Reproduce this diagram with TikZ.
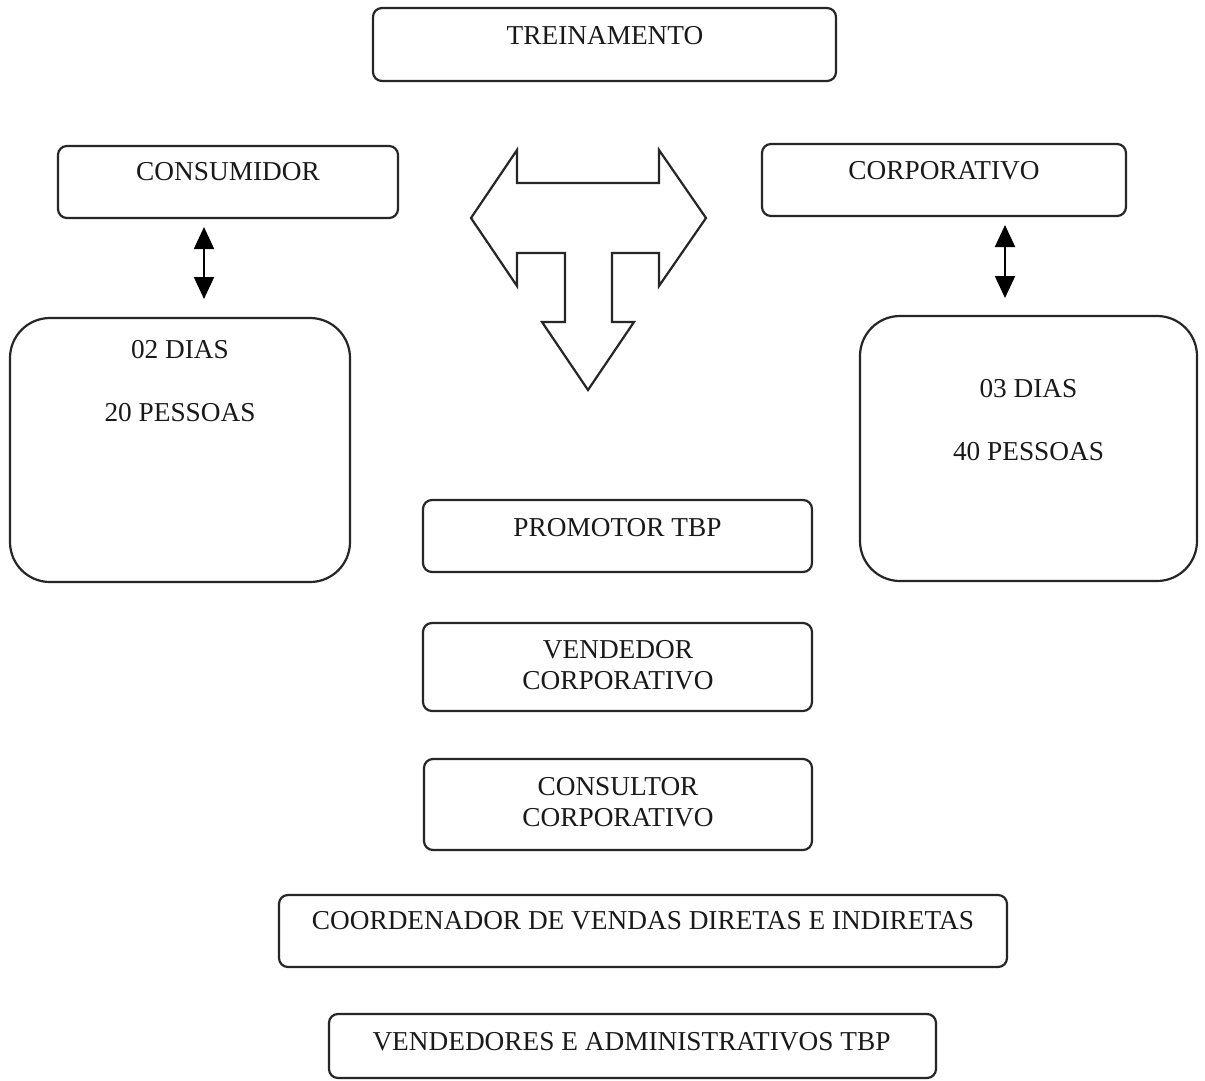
\documentclass[tikz,border=0pt]{standalone}
\usepackage{fontspec}
\setmainfont{Liberation Serif}
\usetikzlibrary{arrows.meta}
\begin{document}
\begin{tikzpicture}[x=1pt,y=-1pt,
  box/.style={draw=black!85,line width=2.2pt,rounded corners=9pt,inner sep=0pt},
  bigbox/.style={draw=black!85,line width=2.2pt,rounded corners=40pt,inner sep=0pt},
  txt/.style={inner sep=0pt,align=center,font=\fontsize{27.3}{31}\selectfont,text=black!90},
  dbl/.style={line width=2pt,{Triangle[width=20pt,length=22pt]}-{Triangle[width=20pt,length=22pt]}},
  tshape/.style={draw=black!85,line width=2.2pt,line join=miter}]
\useasboundingbox (0,0) rectangle (1205,1081);
\fill[white] (0,0) rectangle (1205,1081);

% boxes
\node[box,minimum width=463pt,minimum height=73pt] (trein) at (604.5,44.5) {};
\node[txt] (treint) at (605,36) {TREINAMENTO};

\node[box,minimum width=340pt,minimum height=72pt] (cons) at (228,182) {};
\node[txt] (const) at (228,172) {CONSUMIDOR};

\node[box,minimum width=364pt,minimum height=72pt] (corp) at (944,180) {};
\node[txt] (corpt) at (944,171) {CORPORATIVO};

\node[bigbox,minimum width=340pt,minimum height=264pt] (left) at (180,450) {};
\node[txt] (leftt) at (180,381.5) {02 DIAS\\[32pt]20 PESSOAS};

\node[bigbox,minimum width=337pt,minimum height=265pt] (right) at (1028.5,448.5) {};
\node[txt] (rightt) at (1028.5,420.5) {03 DIAS\\[32pt]40 PESSOAS};

\node[box,minimum width=389pt,minimum height=72pt] (prom) at (617.5,536) {};
\node[txt] (promt) at (617.5,528) {PROMOTOR TBP};

\node[box,minimum width=389pt,minimum height=88pt] (vend) at (617.5,667) {};
\node[txt] (vendt) at (618,665.5) {VENDEDOR\\CORPORATIVO};

\node[box,minimum width=388pt,minimum height=91pt] (consu) at (618,804.5) {};
\node[txt] (consut) at (618,802) {CONSULTOR\\CORPORATIVO};

\node[box,minimum width=728pt,minimum height=72pt] (coord) at (643,931) {};
\node[txt] (coordt) at (643,921) {COORDENADOR DE VENDAS DIRETAS E INDIRETAS};

\node[box,minimum width=607pt,minimum height=64pt] (vdrs) at (632.5,1046) {};
\node[txt] (vdrst) at (631.5,1042) {VENDEDORES E ADMINISTRATIVOS TBP};

% double arrows
\coordinate (la1) at (204,227);
\coordinate (la2) at (204,299);
\draw[dbl] (la1) -- (la2);
\coordinate (ra1) at (1005,225);
\coordinate (ra2) at (1005,298);
\draw[dbl] (ra1) -- (ra2);

% T-shaped three-way arrow
\draw[tshape] (471,218) -- (517,150) -- (517,183) -- (659,183) -- (659,150)
  -- (706,218) -- (659,286) -- (659,253) -- (612,253) -- (612,322) -- (634,322)
  -- (588,390) -- (542,322) -- (565,322) -- (565,253) -- (517,253) -- (517,286) -- cycle;
\end{tikzpicture}
\end{document}
